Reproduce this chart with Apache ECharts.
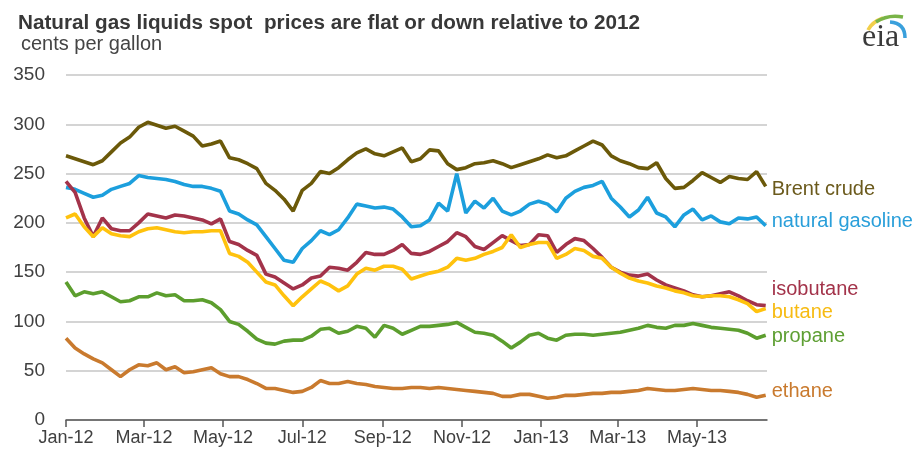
<!DOCTYPE html>
<html>
<head>
<meta charset="utf-8">
<script src="https://cdn.jsdelivr.net/npm/echarts@6/dist/echarts.min.js"></script>
<style>
  html, body { margin: 0; padding: 0; background: #ffffff; }
  #chart { width: 920px; height: 457px; }
</style>
</head>
<body>
<div id="chart"></div>
<script>
// Weekly spot prices, cents per gallon; x = days since 1 Jan 2012
const weekDays = Array.from({ length: 78 }, (_, i) => i * 7);

const brentCrude = [
  268, 265, 262, 259, 263, 272, 281, 287, 297, 302, 299, 296, 298, 293, 288, 278,
  280, 283, 266, 264, 260, 255, 240, 233, 224, 212, 233, 240, 252, 250, 256, 264,
  271, 275, 270, 268, 272, 276, 262, 265, 274, 273, 260, 254, 256, 260, 261, 263,
  260, 256, 259, 262, 265, 269, 266, 268, 273, 278, 283, 279, 268, 263, 260, 256,
  255, 261, 245, 235, 236, 243, 251, 246, 241, 247, 245, 244, 252, 237
];
const naturalGasoline = [
  236, 234, 230, 226, 228, 234, 237, 240, 248, 246, 245, 244, 242, 239, 237, 237,
  235, 232, 212, 209, 203, 198, 186, 174, 162, 160, 174, 182, 192, 188, 193, 205,
  219, 217, 215, 216, 214, 206, 196, 197, 203, 220, 212, 250, 210, 222, 215, 225,
  212, 208, 212, 219, 222, 219, 211, 225, 232, 236, 238, 242, 225, 216, 206, 213,
  226, 210, 206, 196, 208, 214, 203, 207, 201, 199, 205, 204, 206, 197
];
const isobutane = [
  242, 231, 205, 186, 205, 194, 192, 192, 200, 209, 207, 205, 208, 207, 205, 203,
  199, 204, 181, 178, 172, 167, 148, 145, 139, 133, 137, 144, 146, 155, 154, 152,
  160, 170, 168, 168, 172, 178, 169, 168, 171, 176, 181, 190, 186, 176, 173, 180,
  187, 182, 177, 178, 188, 187, 170, 178, 184, 182, 174, 165, 155, 150, 147, 146,
  148, 142, 137, 134, 131, 127, 125, 126, 128, 130, 126, 121, 117, 116
];
const butane = [
  205, 209, 196, 186, 195, 189, 187, 186, 191, 194, 195, 193, 191, 190, 191, 191,
  192, 192, 169, 166, 160, 150, 140, 137, 126, 116, 125, 133, 141, 137, 131, 136,
  148, 154, 152, 156, 156, 153, 143, 146, 149, 151, 155, 164, 162, 164, 168, 171,
  175, 188, 175, 178, 180, 180, 164, 168, 174, 172, 166, 164, 155, 149, 144, 141,
  139, 136, 134, 131, 129, 126, 125, 126, 126, 125, 122, 118, 110, 113
];
const propane = [
  140, 126, 130, 128, 130, 125, 120, 121, 125, 125, 129, 126, 127, 121, 121, 122,
  119, 112, 100, 97, 90, 82, 78, 77, 80, 81, 81, 85, 92, 93, 88, 90,
  95, 93, 84, 96, 93, 87, 91, 95, 95, 96, 97, 99, 94, 89, 88, 86,
  80, 73, 79, 86, 88, 83, 81, 86, 87, 87, 86, 87, 88, 89, 91, 93,
  96, 94, 93, 96, 96, 98, 96, 94, 93, 92, 91, 88, 83, 86
];
const ethane = [
  83, 73, 67, 62, 58, 51, 44, 51, 56, 55, 58, 51, 54, 48, 49, 51,
  53, 47, 44, 44, 41, 37, 32, 32, 30, 28, 29, 33, 40, 37, 37, 39,
  37, 36, 34, 33, 32, 32, 33, 33, 32, 33, 32, 31, 30, 29, 28, 27,
  24, 24, 26, 26, 24, 22, 23, 25, 25, 26, 27, 27, 28, 28, 29, 30,
  32, 31, 30, 30, 31, 32, 31, 30, 30, 29, 28, 26, 23, 25
];

// Bimonthly ticks on the time axis (day offsets of each month start)
const tickDays = [0, 60, 121, 182, 244, 305, 366, 425, 486];
const tickLabels = ['Jan-12', 'Mar-12', 'May-12', 'Jul-12', 'Sep-12', 'Nov-12', 'Jan-13', 'Mar-13', 'May-13'];

const seriesDefs = [
  { name: 'Brent crude',      values: brentCrude,      color: '#6b5909', text: '#6b5a1c', dy: 3 },
  { name: 'natural gasoline', values: naturalGasoline, color: '#1c9fdd', text: '#2a9fda', dy: -4 },
  { name: 'isobutane',        values: isobutane,       color: '#a3334a', text: '#a3334a', dy: -16 },
  { name: 'butane',           values: butane,          color: '#ffc20d', text: '#f7bb12', dy: 4 },
  { name: 'propane',          values: propane,         color: '#5c9e2e', text: '#5e9f33', dy: 1 },
  { name: 'ethane',           values: ethane,          color: '#c97a2e', text: '#c97a2e', dy: -4 }
];

const FONT = '"Liberation Sans", Arial, sans-serif';

const chart = echarts.init(document.getElementById('chart'), null, { renderer: 'canvas' });

chart.setOption({
  backgroundColor: '#ffffff',
  animation: false,
  title: [
    {
      text: 'Natural gas liquids spot  prices are flat or down relative to 2012',
      left: 13, top: 8,
      textStyle: { fontFamily: FONT, fontSize: 20.7, fontWeight: 'bold', color: '#383838' }
    },
    {
      text: 'cents per gallon',
      left: 16, top: 29,
      textStyle: { fontFamily: FONT, fontSize: 20, fontWeight: 'normal', color: '#444444' }
    }
  ],
  grid: { left: 66, right: 153, top: 75, bottom: 37 },
  xAxis: {
    type: 'value',
    min: 0,
    max: 540,
    splitLine: { show: false },
    axisLine: { show: true, lineStyle: { color: '#555555', width: 1.5 } },
    axisTick: {
      show: true, length: 7, inside: false,
      customValues: tickDays,
      lineStyle: { color: '#555555', width: 1.5 }
    },
    axisLabel: {
      customValues: tickDays,
      margin: 9,
      fontFamily: FONT, fontSize: 18, color: '#404040',
      formatter: (v) => tickLabels[tickDays.indexOf(v)]
    }
  },
  yAxis: {
    type: 'value',
    min: 0,
    max: 350,
    interval: 50,
    axisLine: { show: false },
    axisTick: { show: false },
    axisLabel: { margin: 21, fontFamily: FONT, fontSize: 19, color: '#404040' },
    splitLine: { lineStyle: { color: '#c6c6c6', width: 1.5 } }
  },
  series: seriesDefs.map((s) => ({
    name: s.name,
    type: 'line',
    data: weekDays.map((d, i) => [d, s.values[i]]),
    showSymbol: false,
    symbol: 'none',
    lineStyle: { color: s.color, width: 3.6 },
    itemStyle: { color: s.color },
    endLabel: {
      show: true,
      formatter: s.name,
      distance: 6,
      offset: [0, s.dy],
      fontFamily: FONT,
      fontSize: 20,
      color: s.text
    },
    emphasis: { disabled: true },
    z: 3
  })),
  graphic: [
    // eia mark: three arcs over the letters
    { type: 'bezierCurve', shape: { x1: 868, y1: 30, x2: 883, y2: 18, cpx1: 872, cpy1: 22 },
      style: { stroke: '#f2cf4a', lineWidth: 3.5, fill: null } },
    { type: 'bezierCurve', shape: { x1: 876, y1: 22, x2: 903, y2: 17, cpx1: 888, cpy1: 14 },
      style: { stroke: '#79b447', lineWidth: 3.5, fill: null } },
    { type: 'bezierCurve', shape: { x1: 890, y1: 22, x2: 905, y2: 38, cpx1: 905, cpy1: 23 },
      style: { stroke: '#3aa0dc', lineWidth: 3.5, fill: null } },
    { type: 'text', left: 862, top: 22,
      style: { text: 'eia', fontFamily: '"Liberation Serif", "DejaVu Serif", serif', fontSize: 32, fill: '#3a3a3a' } }
  ]
});
</script>
</body>
</html>
